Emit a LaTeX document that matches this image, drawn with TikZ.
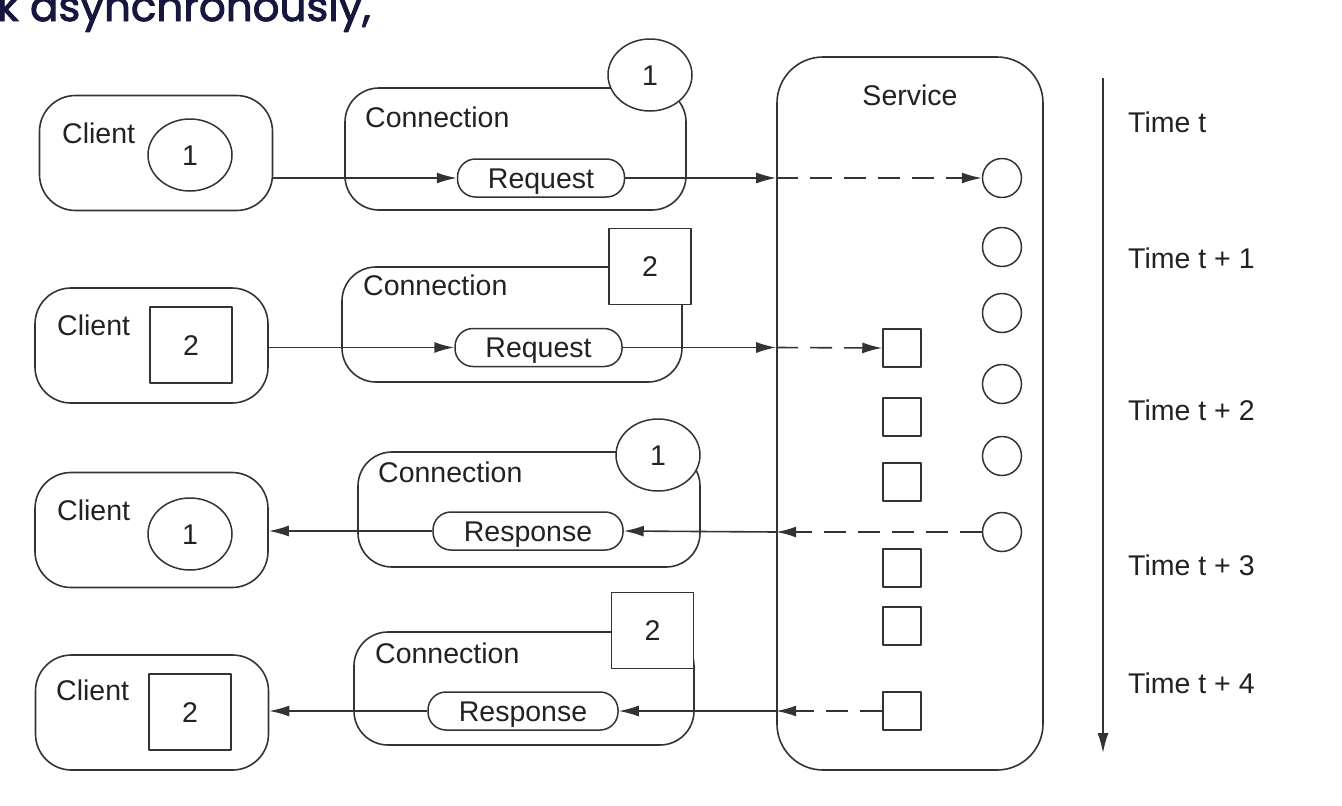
\documentclass[tikz,border=0pt]{standalone}
\usepackage{fontspec}
\setmainfont{Liberation Sans}
\newfontfamily\headfont[FakeBold=2.2]{Poppins}
\usetikzlibrary{positioning,arrows.meta,shapes.geometric}
\definecolor{inkgray}{HTML}{333333}
\definecolor{textgray}{HTML}{222222}
\definecolor{headblue}{HTML}{16163E}

\begin{document}
\begin{tikzpicture}[x=1pt,y=-1pt,>={Latex[length=20pt,width=11pt]},line join=bevel,
  every node/.style={font=\fontsize{28.5}{34}\selectfont,text=textgray,text height=20.4pt,text depth=0pt},
  clientbox/.style={draw=inkgray,line width=1.6pt,rounded corners=36pt,minimum width=233pt,minimum height=115pt},
  connbox/.style={draw=inkgray,line width=1.6pt,rounded corners=34pt,minimum width=340pt,minimum height=115pt},
  servbox/.style={draw=inkgray,line width=1.6pt,rounded corners=46pt,minimum width=266pt,minimum height=713pt},
  tokcirc/.style={draw=inkgray,fill=white,line width=1.5pt,ellipse,minimum width=84pt,minimum height=72pt,inner sep=0pt},
  toksq/.style={draw=inkgray,fill=white,line width=1.5pt,minimum width=82pt,minimum height=76pt,inner sep=0pt},
  pill/.style={draw=inkgray,line width=1.5pt,rounded corners=18pt,minimum height=38pt,inner sep=0pt},
  slot/.style={draw=inkgray,line width=1.5pt,circle,minimum size=39pt,inner sep=0pt},
  slotsq/.style={draw=inkgray,line width=1.5pt,minimum size=38pt,inner sep=0pt},
  lbl/.style={anchor=west,inner sep=0pt},
  link/.style={draw=inkgray,line width=1.6pt,->},
  dlink/.style={link,dash pattern=on 22pt off 12pt}]
\useasboundingbox (0,0) rectangle (1342,806);
\clip (0,0) rectangle (1342,806);
%%
\node (headline) at (-3,21) [anchor=base west,inner sep=0pt,text=headblue,text height=,font=\headfont\fontsize{42}{44}\selectfont] {k asynchronously,};
%% clients
\node (client1) at (156,153) [clientbox] {};
\node (client2) at (151.5,345.5) [clientbox] {};
\node (client3) at (151.5,530) [clientbox] {};
\node (client4) at (152,712.5) [clientbox] {};
\node (clbl1) at (62,133) [lbl] {Client};
\node (clbl2) at (57,325) [lbl] {Client};
\node (clbl3) at (57,510) [lbl] {Client};
\node (clbl4) at (56,690) [lbl] {Client};
\node (ctok1) at (190,155) [tokcirc] {1};
\node (ctok2) at (191,345) [toksq] {2};
\node (ctok3) at (190,534) [tokcirc] {1};
\node (ctok4) at (190,712) [toksq] {2};
%% connections
\node (conn1) at (515.5,149) [connbox,minimum width=341pt,minimum height=122pt] {};
\node (conn2) at (512,324.5) [connbox] {};
\node (conn3) at (529,509.5) [connbox,minimum width=342pt] {};
\node (conn4) at (524,688.5) [connbox,minimum height=113pt] {};
\node (klbl1) at (365,117) [lbl] {Connection};
\node (klbl2) at (363,285) [lbl] {Connection};
\node (klbl3) at (378,472) [lbl] {Connection};
\node (klbl4) at (375,653) [lbl] {Connection};
\node (ktok1) at (650,75) [tokcirc] {1};
\node (ktok2) at (650,266.5) [toksq] {2};
\node (ktok3) at (658,455) [tokcirc] {1};
\node (ktok4) at (652.5,630.5) [toksq] {2};
\node (req1) at (541,178) [pill,minimum width=167pt] {Request};
\node (req2) at (538.5,347.5) [pill,minimum width=167pt] {Request};
\node (resp3) at (528,531) [pill,minimum width=190pt] {Response};
\node (resp4) at (523,711) [pill,minimum width=190pt] {Response};
%% service
\node (service) at (910,413.5) [servbox] {};
\node (slbl) at (910,95) {Service};
\foreach \i/\y in {1/178,2/247,3/313,4/384,5/456,6/532}
  \node (s\i) at (1002,\y) [slot] {};
\foreach \i/\y in {1/348,2/417,3/482,4/568,5/626,6/711}
  \node (q\i) at (902,\y) [slotsq] {};
%% requests
\draw [link] (client1.east |- req1.west) -- (req1.west);
\draw [link] (req1.east) -- (service.west |- req1.east);
\draw [dlink] (service.west |- req1.east) -- (s1.west);
\draw [link] (client2.east |- req2.west) -- (req2.west);
\draw [link] (req2.east) -- (service.west |- req2.east);
\draw [dlink] (service.west |- req2.east) -- (q1.west);
%% responses
\draw [dlink] (s6.west) -- (service.west |- s6.west);
\draw [link] (service.west |- s6.west) -- (resp3.east);
\draw [link] (resp3.west) -- (client3.east |- resp3.west);
\draw [dlink] (q6.west) -- (service.west |- q6.west);
\draw [link] (service.west |- q6.west) -- (resp4.east);
\draw [link] (resp4.west) -- (client4.east |- resp4.west);
%% time
\coordinate (ttop) at (1103,78);
\coordinate (tbot) at (1103,753);
\draw [link] (ttop) -- (tbot);
\node (time0) at (1128,122) [lbl] {Time t};
\node (time1) at (1128,258) [lbl] {Time t + 1};
\node (time2) at (1128,410) [lbl] {Time t + 2};
\node (time3) at (1128,565) [lbl] {Time t + 3};
\node (time4) at (1128,683) [lbl] {Time t + 4};
%
\end{tikzpicture}
\end{document}
